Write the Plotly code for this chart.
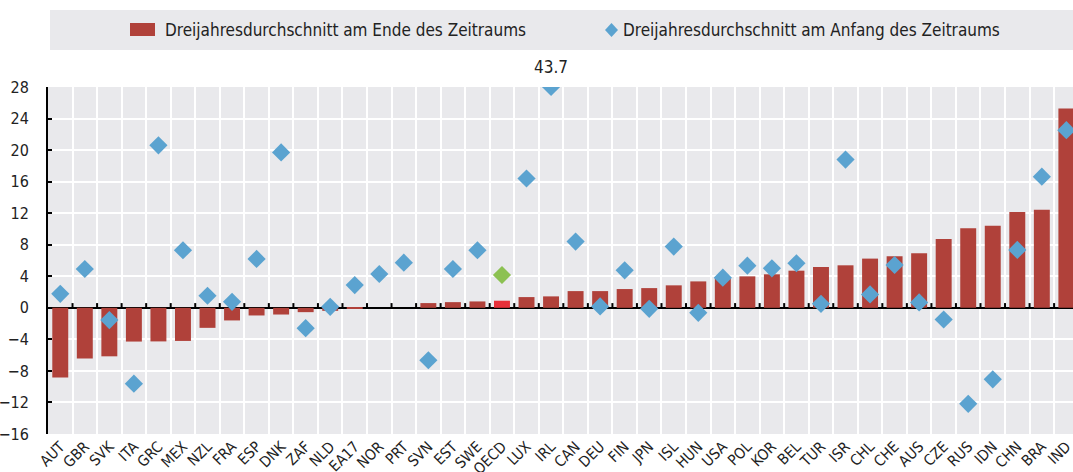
import plotly.graph_objects as go

categories = ["AUT", "GBR", "SVK", "ITA", "GRC", "MEX", "NZL", "FRA", "ESP", "DNK", "ZAF", "NLD",
              "EA17", "NOR", "PRT", "SVN", "EST", "SWE", "OECD", "LUX", "IRL", "CAN", "DEU", "FIN",
              "JPN", "ISL", "HUN", "USA", "POL", "KOR", "BEL", "TUR", "ISR", "CHL", "CHE", "AUS",
              "CZE", "RUS", "IDN", "CHN", "BRA", "IND"]

end_avg = [-8.85, -6.44, -6.15, -4.28, -4.26, -4.2, -2.54, -1.6, -0.97, -0.85, -0.55, -0.38,
           -0.1, 0.0, 0.0, 0.6, 0.72, 0.81, 0.9, 1.36, 1.45, 2.12, 2.12, 2.38,
           2.5, 2.85, 3.35, 3.78, 3.99, 4.25, 4.71, 5.18, 5.39, 6.24, 6.54, 6.92,
           8.74, 10.1, 10.4, 12.14, 12.43, 25.28]

start_avg = [1.78, 4.92, -1.56, -9.62, 20.6, 7.3, 1.53, 0.76, 6.2, 19.7, -2.58, 0.13,
             2.89, 4.29, 5.73, -6.65, 4.92, 7.3, 4.16, 16.4, 43.7, 8.4, 0.18, 4.76,
             -0.13, 7.76, -0.64, 3.82, 5.35, 5.01, 5.65, 0.51, 18.8, 1.7, 5.43, 0.69,
             -1.48, -12.17, -9.07, 7.34, 16.63, 22.52]

y_ticks = [-16, -12, -8, -4, 0, 4, 8, 12, 16, 20, 24, 28]
y_min, y_max = -16, 28

name_end = "Dreijahresdurchschnitt am Ende des Zeitraums"
name_start = "Dreijahresdurchschnitt am Anfang des Zeitraums"

BAR = "#b0413a"
BAR_HL = "#e8303a"
DIA = "#5ba3d0"
DIA_HL = "#8cc152"
BG = "#e9e9ec"
TXT = "#222222"
FONT = "DejaVu Sans Condensed, Liberation Sans Narrow, Arial Narrow, sans-serif"

bar_colors = [BAR_HL if c == "OECD" else BAR for c in categories]
dia_colors = [DIA_HL if c == "OECD" else DIA for c in categories]
dia_plot = [min(v, y_max) for v in start_avg]

# figure geometry (body margin removed via post_script)
W, H = 1073, 472
ML, MR, MT, MB = 48, 0, 87, 38
PW, PH = W - ML - MR, H - MT - MB


def px_x(fx):
    return (fx - ML) / PW


def px_y(fy):
    return (H - MB - fy) / PH


fig = go.Figure()
fig.add_trace(go.Bar(
    x=categories, y=end_avg, name=name_end, showlegend=False,
    marker=dict(color=bar_colors, line=dict(width=0)), width=0.65,
))
fig.add_trace(go.Scatter(
    x=categories, y=dia_plot, mode="markers", name=name_start, showlegend=False,
    marker=dict(symbol="diamond", size=14, color=dia_colors, line=dict(width=0)),
))

annotations = []
# labels for clipped values
for c, v in zip(categories, start_avg):
    if v > y_max:
        annotations.append(dict(x=c, y=y_max, xref="x", yref="y", text=f"{v:.1f}", showarrow=False,
                                yshift=20, font=dict(family=FONT, size=17, color=TXT)))

shapes = []
# small ticks on zero line at category boundaries
for i in range(len(categories) - 1):
    shapes.append(dict(type="line", xref="x", yref="y", x0=i + 0.5, x1=i + 0.5, y0=0, y1=0.6,
                       line=dict(color="black", width=2), layer="above"))

# legend box
leg_cy = px_y(30)
shapes.append(dict(type="rect", xref="paper", yref="paper", x0=px_x(50), x1=1.0,
                   y0=px_y(50), y1=px_y(10), fillcolor=BG, line=dict(width=0), layer="below"))
shapes.append(dict(type="rect", xref="paper", yref="paper", x0=px_x(130), x1=px_x(155),
                   y0=px_y(36), y1=px_y(23), fillcolor=BAR, line=dict(width=0)))
shapes.append(dict(type="path", xref="paper", yref="paper", xsizemode="pixel", ysizemode="pixel",
                   xanchor=px_x(611.5), yanchor=leg_cy, path="M0,7 L6.5,0 L0,-7 L-6.5,0 Z",
                   fillcolor=DIA, line=dict(width=0)))
annotations.append(dict(xref="paper", yref="paper", x=px_x(163), y=leg_cy, xanchor="left",
                        yanchor="middle", text=name_end, showarrow=False,
                        font=dict(family=FONT, size=17, color=TXT)))
annotations.append(dict(xref="paper", yref="paper", x=px_x(621), y=leg_cy, xanchor="left",
                        yanchor="middle", text=name_start, showarrow=False,
                        font=dict(family=FONT, size=17, color=TXT)))

fig.update_layout(
    width=W, height=H,
    margin=dict(l=ML, r=MR, t=MT, b=MB, autoexpand=False),
    paper_bgcolor="white", plot_bgcolor=BG,
    font=dict(family=FONT, size=15, color=TXT),
    shapes=shapes, annotations=annotations,
    showlegend=False,
    xaxis=dict(type="category", range=[-0.5, 41.27], tickson="boundaries",
               showgrid=True, gridcolor="white", gridwidth=2, ticks="", tickangle=-45,
               tickfont=dict(family=FONT, size=15, color=TXT), showline=False, automargin=False),
    yaxis=dict(range=[y_min, y_max], tickvals=y_ticks, showgrid=True, gridcolor="white", gridwidth=2,
               zeroline=True, zerolinecolor="black", zerolinewidth=2,
               showline=True, linecolor="black", linewidth=2, ticks="inside", ticklen=4,
               tickcolor="black", tickwidth=2, ticklabelstandoff=14,
               tickfont=dict(family=FONT, size=16, color=TXT), automargin=False),
)

fig.write_html("out.html", config={"displayModeBar": False},
               post_script="document.body.style.margin='0';document.body.style.overflow='hidden';")
